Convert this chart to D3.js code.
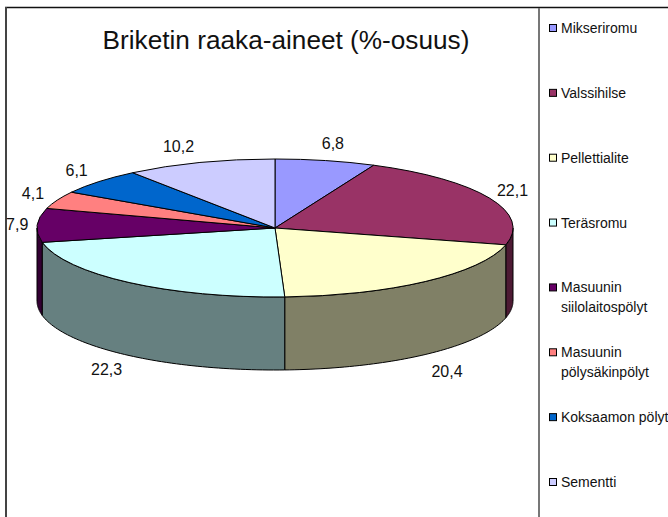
<!DOCTYPE html>
<html>
<head>
<meta charset="utf-8">
<script src="https://cdn.jsdelivr.net/npm/d3@7"></script>
<style>
  html, body { margin: 0; padding: 0; background: #fff; }
  text { font-family: "Liberation Sans", Arial, sans-serif; fill: #111; }
</style>
</head>
<body>
<div id="chart"></div>
<script>
// Data
const categories = ['Mikseriromu', 'Valssihilse', 'Pellettialite', 'Teräsromu',
  'Masuunin siilolaitospölyt', 'Masuunin pölysäkinpölyt', 'Koksaamon pölyt', 'Sementti']
const legendLines = [['Mikseriromu'], ['Valssihilse'], ['Pellettialite'], ['Teräsromu'],
  ['Masuunin', 'siilolaitospölyt'], ['Masuunin', 'pölysäkinpölyt'], ['Koksaamon pölyt'], ['Sementti']]
const values = [6.8, 22.1, 20.4, 22.3, 7.9, 4.1, 6.1, 10.2]
const valueLabels = ['6,8', '22,1', '20,4', '22,3', '7,9', '4,1', '6,1', '10,2']
const colors = ['#9999ff', '#993366', '#ffffcc', '#ccffff', '#660066', '#ff8080', '#0066cc', '#ccccff']
const title = 'Briketin raaka-aineet (%-osuus)'

// Dimensions
const dimensions = { width: 668, height: 517 }
const pie3d = { cx: 275, cy: 228, rx: 238, ry: 69, depth: 73 }
const labelRx = 268, labelRy = 84
const labelNudge = [[1, -1], [-4, 0], [3, 7], [-4, 3], [10, 1], [3, 1], [0, 0], [-12, -1]]

const svg = d3.select('#chart')
  .append('svg')
  .attr('width', dimensions.width)
  .attr('height', dimensions.height)
  .style('display', 'block')

// Frame
svg.append('line')
  .attr('x1', 5).attr('x2', dimensions.width).attr('y1', 7.5).attr('y2', 7.5)
  .attr('stroke', '#111').attr('stroke-width', 1.5)
svg.append('line')
  .attr('x1', 6).attr('x2', 6).attr('y1', 7).attr('y2', dimensions.height)
  .attr('stroke', '#444').attr('stroke-width', 2)
svg.append('line')
  .attr('x1', 539).attr('x2', 539).attr('y1', 8).attr('y2', dimensions.height)
  .attr('stroke', '#777').attr('stroke-width', 2)

// Title
svg.append('text')
  .attr('x', 286).attr('y', 49)
  .attr('text-anchor', 'middle')
  .style('font-size', '26.2px')
  .text(title)

// Slices: angle 0 at the top, going clockwise, squeezed to an ellipse
const slices = d3.pie().sort(null)(values)
const px = t => pie3d.cx + pie3d.rx * Math.sin(t)
const py = t => pie3d.cy - pie3d.ry * Math.cos(t)

// Walls, only the front half of the rim shows
const wallArea = d3.area()
  .x(d => px(d))
  .y0(d => py(d))
  .y1(d => py(d) + pie3d.depth)

const frontStart = Math.PI / 2, frontEnd = Math.PI * 1.5
const walls = slices
  .map((d, i) => ({ i, a0: Math.max(d.startAngle, frontStart), a1: Math.min(d.endAngle, frontEnd) }))
  .filter(d => d.a1 > d.a0)

svg.append('g').selectAll('path')
  .data(walls)
  .join('path')
  .attr('d', d => {
    const steps = d3.range(0, 61).map(k => d.a0 + (d.a1 - d.a0) * k / 60)
    return wallArea(steps) + 'Z'
  })
  .attr('fill', d => {
    const c = d3.rgb(colors[d.i])
    return d3.rgb(c.r / 2, c.g / 2, c.b / 2).formatHex()
  })
  .attr('stroke', '#000')
  .attr('stroke-width', 1)

// Top face
const arc = d3.arc().innerRadius(0).outerRadius(1)
svg.append('g')
  .attr('transform', `translate(${pie3d.cx},${pie3d.cy}) scale(${pie3d.rx},${pie3d.ry})`)
  .selectAll('path')
  .data(slices)
  .join('path')
  .attr('d', arc)
  .attr('fill', (d, i) => colors[i])
  .attr('stroke', '#000')
  .attr('stroke-width', 1)
  .attr('vector-effect', 'non-scaling-stroke')

// Value labels
svg.append('g').selectAll('text')
  .data(slices)
  .join('text')
  .attr('text-anchor', 'middle')
  .attr('dominant-baseline', 'middle')
  .style('font-size', '16px')
  .attr('x', (d, i) => pie3d.cx + labelRx * Math.sin((d.startAngle + d.endAngle) / 2) + labelNudge[i][0])
  .attr('y', (d, i) => {
    const mid = (d.startAngle + d.endAngle) / 2
    const c = Math.cos(mid)
    return pie3d.cy - labelRy * c + (c < -0.2 ? pie3d.depth : 0) + labelNudge[i][1]
  })
  .text((d, i) => valueLabels[i])

// Legend
const legendY = d3.scalePoint().domain(categories).range([28, 482])
const legend = svg.append('g').selectAll('g')
  .data(categories)
  .join('g')
  .attr('transform', d => `translate(549,${legendY(d)})`)

legend.append('rect')
  .attr('x', 0.5).attr('y', -3.5)
  .attr('width', 7).attr('height', 7)
  .attr('fill', (d, i) => colors[i])
  .attr('stroke', '#000')

legend.append('text')
  .style('font-size', '14px')
  .selectAll('tspan')
  .data((d, i) => legendLines[i])
  .join('tspan')
  .attr('x', 12)
  .attr('y', (d, i) => 5 + i * 20)
  .text(d => d)
</script>
</body>
</html>
